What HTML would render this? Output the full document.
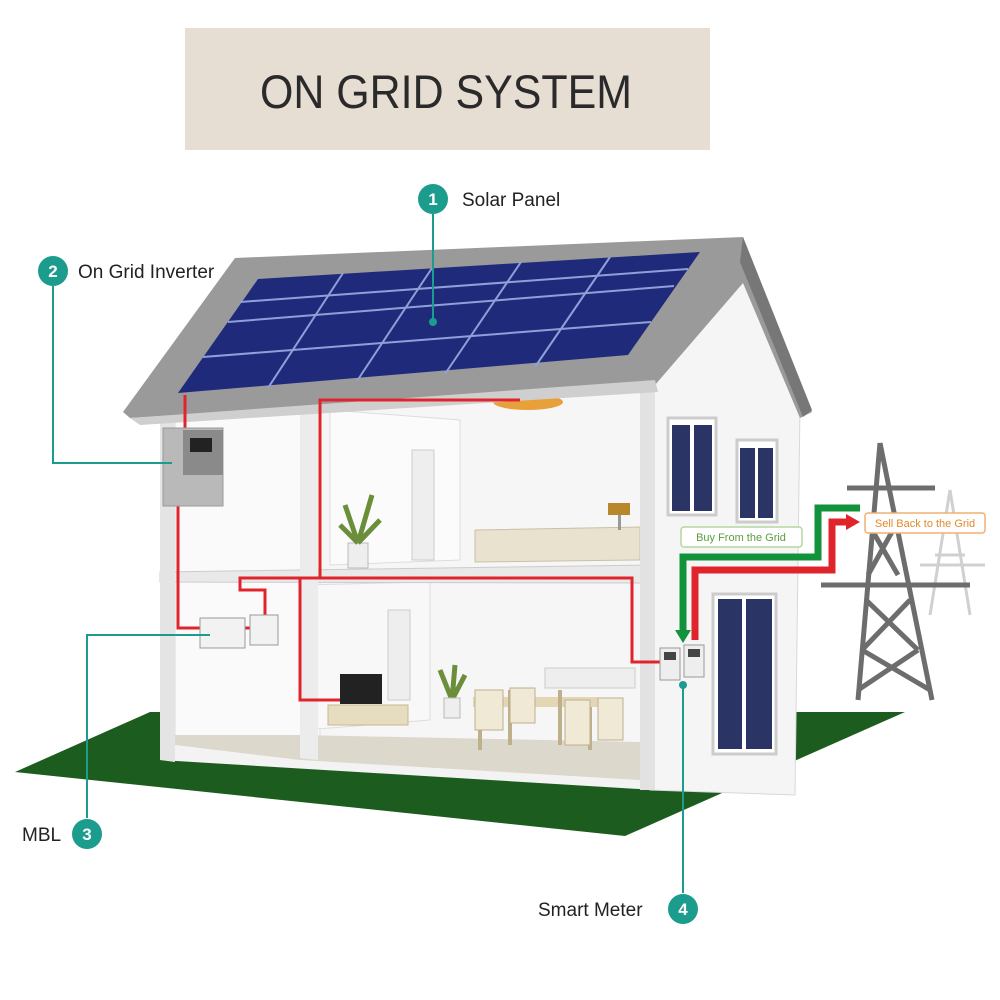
<!DOCTYPE html>
<html><head><meta charset="utf-8"><style>
html,body{margin:0;padding:0;background:#fff;}
svg{display:block;}
text{font-family:"Liberation Sans",sans-serif;}
</style></head><body>
<svg width="1000" height="1000" viewBox="0 0 1000 1000" xmlns="http://www.w3.org/2000/svg">
<rect width="1000" height="1000" fill="#fff"/>
<rect x="185" y="28" width="525" height="122" fill="#e6ded3"/>
<text x="446" y="108" font-size="47" text-anchor="middle" fill="#2a2a2a" textLength="372" lengthAdjust="spacingAndGlyphs">ON GRID SYSTEM</text>

<polygon points="15,772 150,712 905,712 625,836" fill="#1d5c1f"/>

<!-- towers -->
<g stroke="#d0d0d0" stroke-width="3" fill="none">
<path d="M950,490 L930,615 M950,490 L970,615 M935,555 L965,555 M920,565 L985,565"/>
</g>
<g stroke="#6d6d6d" stroke-width="5" fill="none">
<path d="M880,443 L858,700 M880,443 L932,700"/>
<path d="M847,488 L935,488 M821,585 L970,585"/>
<path d="M866,600 L918,650 M910,600 L862,650 M872,530 L898,575 M893,530 L868,575 M862,650 L930,690 M918,650 L858,690"/>
</g>

<polygon points="160,410 655,375 655,790 160,760" fill="#f3f3f3"/>
<polygon points="175,412 320,402 320,745 175,740" fill="#fafafa" stroke="#ddd"/>
<polygon points="320,402 650,380 650,780 320,760" fill="#f6f6f6" stroke="#ddd"/>
<polygon points="330,410 460,420 460,560 330,565" fill="#fbfbfb" stroke="#ddd"/>
<polygon points="305,585 430,582 430,720 305,730" fill="#f8f8f8" stroke="#ddd"/>
<polygon points="160,572 650,565 650,583 160,582" fill="#e9e9e9" stroke="#ccc"/>
<polygon points="300,735 640,742 640,780 300,760" fill="#dcd8cc"/>
<polygon points="175,735 300,735 300,760 175,745" fill="#dcd8cc"/>
<rect x="412" y="450" width="22" height="110" fill="#eee" stroke="#ccc"/>
<rect x="388" y="610" width="22" height="90" fill="#eee" stroke="#ccc"/>
<polygon points="475,530 640,527 640,560 475,562" fill="#e8e2cf" stroke="#c9c0a8"/>
<rect x="608" y="503" width="22" height="12" fill="#b8862b"/>
<rect x="618" y="515" width="3" height="15" fill="#999"/>
<ellipse cx="528" cy="402" rx="35" ry="8" fill="#e8a13a"/>
<rect x="348" y="543" width="20" height="25" fill="#eee" stroke="#bbb"/>
<path d="M358,543 L345,505 M358,543 L372,495 M358,543 L380,520 M358,543 L340,525" stroke="#6b8e3a" stroke-width="5"/>
<rect x="340" y="674" width="42" height="30" fill="#222"/>
<rect x="328" y="705" width="80" height="20" fill="#e6dcc0" stroke="#c5b78f"/>
<rect x="473" y="697" width="125" height="10" fill="#e2d6b5"/>
<path d="M480,707 V750 M590,707 V750 M510,690 V745 M560,690 V745" stroke="#bfb08c" stroke-width="4"/>
<rect x="475" y="690" width="28" height="40" fill="#efe9d6" stroke="#bfb08c"/>
<rect x="510" y="688" width="25" height="35" fill="#efe9d6" stroke="#bfb08c"/>
<rect x="565" y="700" width="25" height="45" fill="#efe9d6" stroke="#bfb08c"/>
<rect x="598" y="698" width="25" height="42" fill="#efe9d6" stroke="#bfb08c"/>
<rect x="545" y="668" width="90" height="20" fill="#eee" stroke="#ccc"/>
<path d="M452,700 L440,670 M452,700 L455,665 M452,700 L465,675" stroke="#6b8e3a" stroke-width="5"/>
<rect x="444" y="698" width="16" height="20" fill="#eee" stroke="#bbb"/>
<polygon points="160,410 175,410 175,762 160,760" fill="#e4e4e4"/>
<polygon points="300,405 318,404 318,760 300,758" fill="#ececec"/>
<polygon points="650,380 740,262 800,405 795,795 650,790" fill="#f5f5f5" stroke="#d8d8d8"/>
<polygon points="640,370 655,372 655,790 640,790" fill="#e2e2e2"/>
<rect x="668" y="418" width="48" height="97" fill="#fff" stroke="#ccc" stroke-width="3"/>
<rect x="672" y="425" width="18" height="86" fill="#2a3566"/><rect x="694" y="425" width="18" height="86" fill="#2a3566"/>
<rect x="737" y="440" width="40" height="82" fill="#fff" stroke="#ccc" stroke-width="3"/>
<rect x="740" y="448" width="15" height="70" fill="#2a3566"/><rect x="758" y="448" width="15" height="70" fill="#2a3566"/>
<rect x="713" y="594" width="63" height="160" fill="#fff" stroke="#ccc" stroke-width="3"/>
<rect x="718" y="599" width="24" height="150" fill="#2a3566"/><rect x="746" y="599" width="26" height="150" fill="#2a3566"/>

<polygon points="123,412 235,258 743,237 812,412 800,418 743,283 655,385 130,418" fill="#9a9a9a"/>
<polygon points="130,418 655,380 658,392 140,425" fill="#cfcfcf"/>
<polygon points="743,237 812,410 803,417 740,262" fill="#777"/>
<polygon points="178,393 258,279 700,252 628,355" fill="#1f2b7a"/>
<g stroke="#8fa0d8" stroke-width="2" fill="none">
<path d="M203,357 L651,322"/><path d="M228,322 L674,286"/><path d="M240,302 L688,269"/>
<path d="M268,388 L343,273"/><path d="M357,381 L432,268"/><path d="M445,374 L521,262"/><path d="M535,367 L610,257"/>
</g>

<g stroke="#e0242c" stroke-width="3" fill="none">
<path d="M185,395 V430"/>
<path d="M178,505 V628 H200"/>
<path d="M245,628 H265 V590 H240 V578 H320 V400 H520"/>
<path d="M320,578 H632 V662 H660"/>
<path d="M300,578 V700 H340"/>
</g>
<rect x="163" y="428" width="60" height="78" fill="#b9b9b9" stroke="#999"/>
<rect x="183" y="430" width="40" height="45" fill="#8a8a8a"/>
<rect x="190" y="438" width="22" height="14" fill="#222"/>
<rect x="200" y="618" width="45" height="30" fill="#f2f2f2" stroke="#999"/>
<rect x="250" y="615" width="28" height="30" fill="#f2f2f2" stroke="#999"/>
<rect x="660" y="648" width="20" height="32" fill="#eee" stroke="#999"/>
<rect x="684" y="645" width="20" height="32" fill="#eee" stroke="#999"/>
<rect x="664" y="652" width="12" height="8" fill="#444"/><rect x="688" y="649" width="12" height="8" fill="#444"/>

<path d="M860,508 H818 V557 H683 V632" stroke="#12923a" stroke-width="7" fill="none"/>
<polygon points="675,630 691,630 683,643" fill="#12923a"/>
<path d="M695,640 V570 H832 V522 H848" stroke="#e0242c" stroke-width="7" fill="none"/>
<polygon points="846,514 860,522 846,530" fill="#e0242c"/>
<rect x="681" y="527" width="121" height="20" rx="3" fill="#fff" stroke="#b5d6a0" stroke-width="1.5"/>
<text x="741" y="541" font-size="11" text-anchor="middle" fill="#5a9e3c">Buy From the Grid</text>
<rect x="865" y="513" width="120" height="20" rx="3" fill="#fff" stroke="#f0b070" stroke-width="1.5"/>
<text x="925" y="527" font-size="11" text-anchor="middle" fill="#e08a2a">Sell Back to the Grid</text>

<g stroke="#1c9c8c" stroke-width="2" fill="none">
<path d="M433,214 V322"/>
<path d="M53,286 V463 H172"/>
<path d="M87,818 V635 H210"/>
<path d="M683,893 V685"/>
</g>
<g fill="#1c9c8c">
<circle cx="433" cy="322" r="4"/><circle cx="683" cy="685" r="4"/>
<circle cx="433" cy="199" r="15"/><circle cx="53" cy="271" r="15"/>
<circle cx="87" cy="834" r="15"/><circle cx="683" cy="909" r="15"/>
</g>
<g fill="#fff" font-size="17" font-weight="bold" text-anchor="middle">
<text x="433" y="205">1</text><text x="53" y="277">2</text><text x="87" y="840">3</text><text x="683" y="915">4</text>
</g>
<g fill="#222" font-size="19">
<text x="462" y="206">Solar Panel</text>
<text x="78" y="278">On Grid Inverter</text>
<text x="22" y="841">MBL</text>
<text x="538" y="916">Smart Meter</text>
</g>
</svg>
</body></html>
